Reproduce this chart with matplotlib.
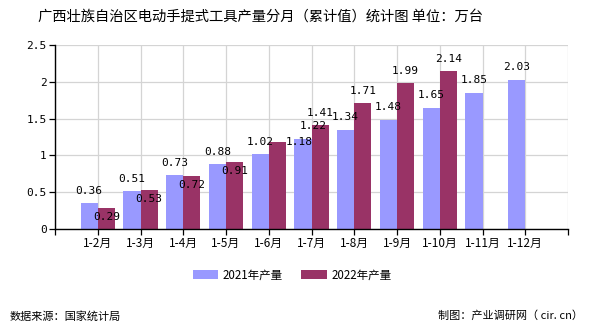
import matplotlib
matplotlib.use("Agg")
import matplotlib.pyplot as plt
import numpy as np

plt.rcParams['font.family'] = ['Noto Sans CJK SC', 'DejaVu Sans']

# data
months = ["1-2月", "1-3月", "1-4月", "1-5月", "1-6月", "1-7月",
          "1-8月", "1-9月", "1-10月", "1-11月", "1-12月"]
v2021 = [0.36, 0.51, 0.73, 0.88, 1.02, 1.22, 1.34, 1.48, 1.65, 1.85, 2.03]
v2022 = [0.29, 0.53, 0.72, 0.91, 1.18, 1.41, 1.71, 1.99, 2.14, None, None]
series_names = ["2021年产量", "2022年产量"]
yticks = [0, 0.5, 1, 1.5, 2, 2.5]

c2021 = "#9999ff"
c2022 = "#993366"

# label offsets in pixels (dx, dy) from the top of each bar
off2021 = [(0, 12)] * 5 + [(10, 13)] + [(0, 13)] * 5
off2022 = [(0, -9)] * 4 + [(22, 0)] + [(0, 12)] * 4

fig = plt.figure(figsize=(5.9, 3.3), dpi=100)
ax = fig.add_axes([55/590, 1-229/330, 513/590, 184/330])

x = np.arange(len(months))
w = 0.4
ax.bar(x - w/2, v2021, width=w, color=c2021, label=series_names[0], zorder=2)
x22 = [i for i, v in enumerate(v2022) if v is not None]
y22 = [v2022[i] for i in x22]
ax.bar(np.array(x22) + w/2, y22, width=w, color=c2022, label=series_names[1], zorder=2)

num_font = dict(family=['DejaVu Sans Mono'], fontsize=8, color='black')
for i, v in enumerate(v2021):
    dx, dy = off2021[i]
    ax.annotate(f"{v:.2f}", (x[i] - w/2, v), xytext=(dx*0.72, dy*0.72),
                textcoords='offset points', ha='center', va='center',
                zorder=3, **num_font)
for j, i in enumerate(x22):
    v = v2022[i]
    dx, dy = off2022[j]
    ax.annotate(f"{v:.2f}", (x[i] + w/2, v), xytext=(dx*0.72, dy*0.72),
                textcoords='offset points', ha='center', va='center',
                zorder=3, **num_font)

ax.set_xlim(-1, 11)
ax.set_ylim(0, 2.5)
ax.set_xticks(np.arange(-1, 12))
ax.set_xticklabels([""] + months + [""], fontsize=8.5)
ax.set_yticks(yticks)
ax.set_yticklabels([f"{t:g}" for t in yticks], family=['DejaVu Sans Mono'], fontsize=8)
ax.grid(True, color="#d4d4d4", linewidth=0.9, zorder=0)
ax.set_axisbelow(True)
for s in ['top', 'right']:
    ax.spines[s].set_visible(False)
for s in ['left', 'bottom']:
    ax.spines[s].set_color('black')
    ax.spines[s].set_linewidth(1.0)
ax.tick_params(axis='both', length=4, width=0.9, color='black', pad=2)

fig.text(260/590, 1-17/330, "广西壮族自治区电动手提式工具产量分月（累计值）统计图 单位：万台",
         ha='center', va='center', fontsize=10.3)

leg = fig.legend(loc='center', bbox_to_anchor=(292/590, 1-275/330), ncol=2,
                 frameon=False, fontsize=8.3, handlelength=2.2, handleheight=0.7,
                 columnspacing=1.6, handletextpad=0.4)

fig.text(10/590, 1-316/330, "数据来源：国家统计局", ha='left', va='center', fontsize=8)
fig.text(583/590, 1-316/330, "制图：产业调研网（ cir. cn）", ha='right', va='center', fontsize=8)

fig.savefig("out.png", dpi=100)
